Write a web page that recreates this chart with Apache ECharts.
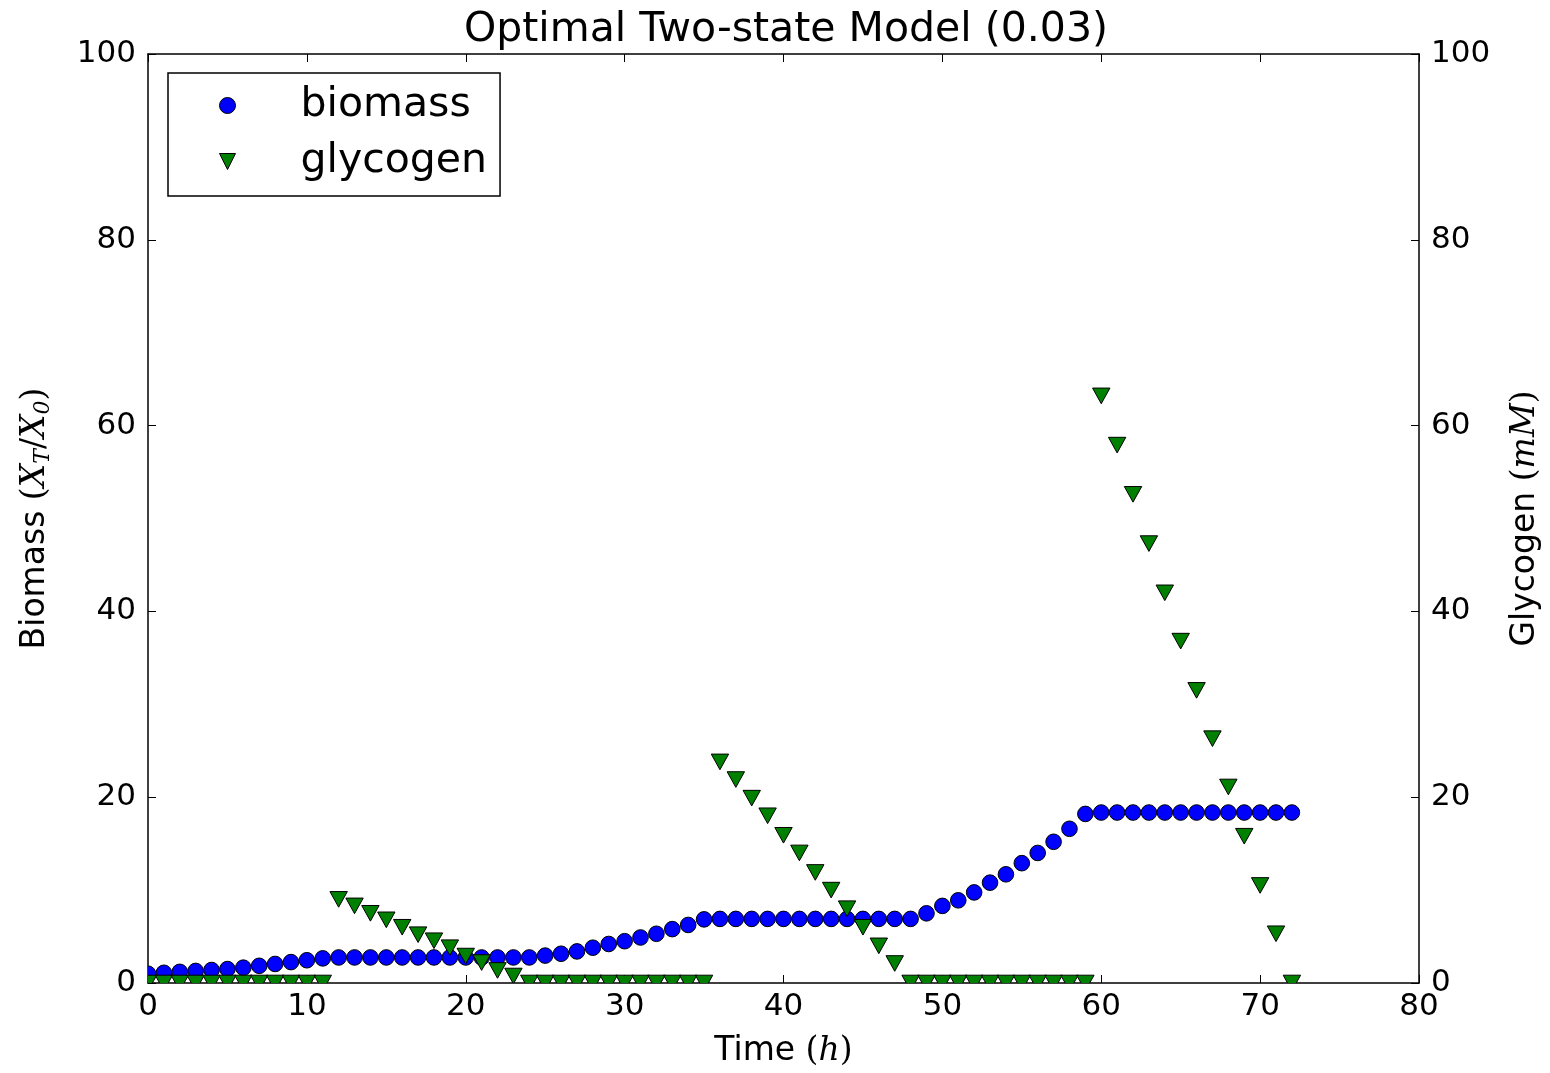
<!DOCTYPE html>
<html>
<head>
<meta charset="utf-8">
<script src="https://cdn.jsdelivr.net/npm/echarts@6/dist/echarts.min.js"></script>
<style>
html,body{margin:0;padding:0;background:#fff;}
#chart{width:1550px;height:1073px;}
</style>
</head>
<body>
<div id="chart"></div>
<script>
// ---- data ----
var hours = [0,1,2,3,4,5,6,7,8,9,10,11,12,13,14,15,16,17,18,19,20,21,22,23,24,
  25,26,27,28,29,30,31,32,33,34,35,36,37,38,39,40,41,42,43,44,45,46,47,48,
  49,50,51,52,53,54,55,56,57,58,59,60,61,62,63,64,65,66,67,68,69,70,71,72];

var biomass = [1.0,1.1,1.2,1.3,1.4,1.5,1.65,1.85,2.05,2.25,2.45,2.65,2.75,
  2.75,2.75,2.75,2.75,2.75,2.75,2.75,2.75,2.75,2.75,2.75,2.75,
  2.95,3.15,3.4,3.8,4.2,4.5,4.9,5.3,5.8,6.25,6.85,
  6.9,6.9,6.9,6.9,6.9,6.9,6.9,6.9,6.9,6.9,6.9,6.9,6.9,
  7.5,8.3,8.9,9.75,10.8,11.7,12.9,14.0,15.2,16.6,18.2,
  18.35,18.35,18.35,18.35,18.35,18.35,18.35,18.35,18.35,18.35,18.35,18.35,18.35];

var glycogen = [0,0,0,0,0,0,0,0,0,0,0,0,
  9.0,8.3,7.5,6.8,6.0,5.2,4.55,3.8,2.9,2.2,1.35,0.75,
  0,0,0,0,0,0,0,0,0,0,0,0,
  23.8,21.9,19.9,18.0,15.9,14.0,11.9,10.0,8.0,6.0,4.0,2.1,
  0,0,0,0,0,0,0,0,0,0,0,0,
  63.2,57.9,52.6,47.3,42.0,36.8,31.5,26.3,21.1,15.8,10.5,5.3,0];

var xTicks = [0,10,20,30,40,50,60,70,80];
var yTicks = [0,20,40,60,80,100];

var titleText = 'Optimal Two-state Model (0.03)';
var seriesNames = ['biomass','glycogen'];

// ---- chart ----
var BLUE = '#0000ff', GREEN = '#008000';
var FONT = 'DejaVu Sans';
var MATH = 'DejaVu Serif';

function pairs(xs, ys){ return xs.map(function(x,i){ return [x, ys[i]]; }); }

var chart = echarts.init(document.getElementById('chart'), null, {renderer:'canvas'});

var axisLineStyle = {color:'#000', width:1.5};
var tickStyle = {show:true, inside:true, length:8, lineStyle:{color:'#000', width:1}};
var labelStyle = {color:'#000', fontFamily:FONT, fontSize:31};

var mathRich = {
  n:{fontFamily:FONT, fontSize:33, color:'#000'},
  m:{fontFamily:MATH, fontStyle:'italic', fontSize:33, color:'#000'},
  p:{fontFamily:MATH, fontSize:33, color:'#000'},
  s:{fontFamily:MATH, fontStyle:'italic', fontSize:22, color:'#000', padding:[15,0,0,0]}
};

var option = {
  backgroundColor:'#fff',
  animation:false,
  title:{
    text:titleText, left:464, top:5, padding:[5,0,5,0],
    textStyle:{fontFamily:FONT, fontSize:41, fontWeight:'normal', color:'#000'}
  },
  legend:{
    orient:'vertical', left:168, top:73,
    padding:[11,13,13,51],
    itemWidth:16, itemHeight:16, itemGap:13,
    backgroundColor:'#fff', borderColor:'#000', borderWidth:1.5, borderRadius:0,
    textStyle:{fontFamily:FONT, fontSize:41, color:'#000', lineHeight:43, padding:[0,0,0,60]},
    data:[
      {name:seriesNames[0], icon:'circle', itemStyle:{color:BLUE, borderColor:'#000', borderWidth:1}},
      {name:seriesNames[1], icon:'path://M0,0L2,0L1,2Z', itemStyle:{color:GREEN, borderColor:'#000', borderWidth:1}}
    ],
    selectedMode:false
  },
  grid:{left:148, right:121, top:54, bottom:86, containLabel:false},
  xAxis:[
    {type:'value', min:0, max:80, interval:10, position:'bottom',
     name:'{n|Time }{p|(}{m|h}{p|)}', nameLocation:'middle', nameGap:52,
     nameTextStyle:{rich:mathRich},
     axisLine:{show:true, onZero:false, lineStyle:axisLineStyle},
     axisTick:tickStyle, splitLine:{show:false},
     axisLabel:Object.assign({margin:8}, labelStyle)},
    {type:'value', min:0, max:80, interval:10, position:'top',
     axisLine:{show:true, onZero:false, lineStyle:axisLineStyle},
     axisTick:tickStyle, splitLine:{show:false}, axisLabel:{show:false}}
  ],
  yAxis:[
    {type:'value', min:0, max:100, interval:20, position:'left',
     name:'{n|Biomass }{p|(}{m|X}{s|T}{p|/}{m|X}{s|0}{p|)}', nameLocation:'middle', nameGap:94, nameRotate:90,
     nameTextStyle:{rich:mathRich},
     axisLine:{show:true, onZero:false, lineStyle:axisLineStyle},
     axisTick:tickStyle, splitLine:{show:false},
     axisLabel:Object.assign({margin:12}, labelStyle)},
    {type:'value', min:0, max:100, interval:20, position:'right',
     name:'{n|Glycogen }{p|(}{m|mM}{p|)}', nameLocation:'middle', nameGap:90, nameRotate:90,
     nameTextStyle:{rich:mathRich},
     axisLine:{show:true, onZero:false, lineStyle:axisLineStyle},
     axisTick:tickStyle, splitLine:{show:false},
     axisLabel:Object.assign({margin:12}, labelStyle)}
  ],
  series:[
    {
      name:seriesNames[0], type:'custom', xAxisIndex:0, yAxisIndex:0, clip:true,
      itemStyle:{color:BLUE, borderColor:'#000', borderWidth:1},
      encode:{x:0, y:1},
      data:pairs(hours, biomass),
      renderItem:function(params, api){
        var p = api.coord([api.value(0), api.value(1)]);
        return {type:'circle', shape:{cx:p[0], cy:p[1], r:7.8},
          style:{fill:BLUE, stroke:'#000', lineWidth:1}};
      },
      z:2
    },
    {
      name:seriesNames[1], type:'custom', xAxisIndex:0, yAxisIndex:1, clip:true,
      itemStyle:{color:GREEN, borderColor:'#000', borderWidth:1},
      encode:{x:0, y:1},
      data:pairs(hours, glycogen),
      renderItem:function(params, api){
        var p = api.coord([api.value(0), api.value(1)]);
        var hw = 8.7, hh = 7.8;
        return {type:'polygon', shape:{points:[[p[0]-hw,p[1]-hh],[p[0]+hw,p[1]-hh],[p[0],p[1]+hh]]},
          style:{fill:GREEN, stroke:'#000', lineWidth:1}};
      },
      z:3
    }
  ]
};
chart.setOption(option);
</script>
</body>
</html>
